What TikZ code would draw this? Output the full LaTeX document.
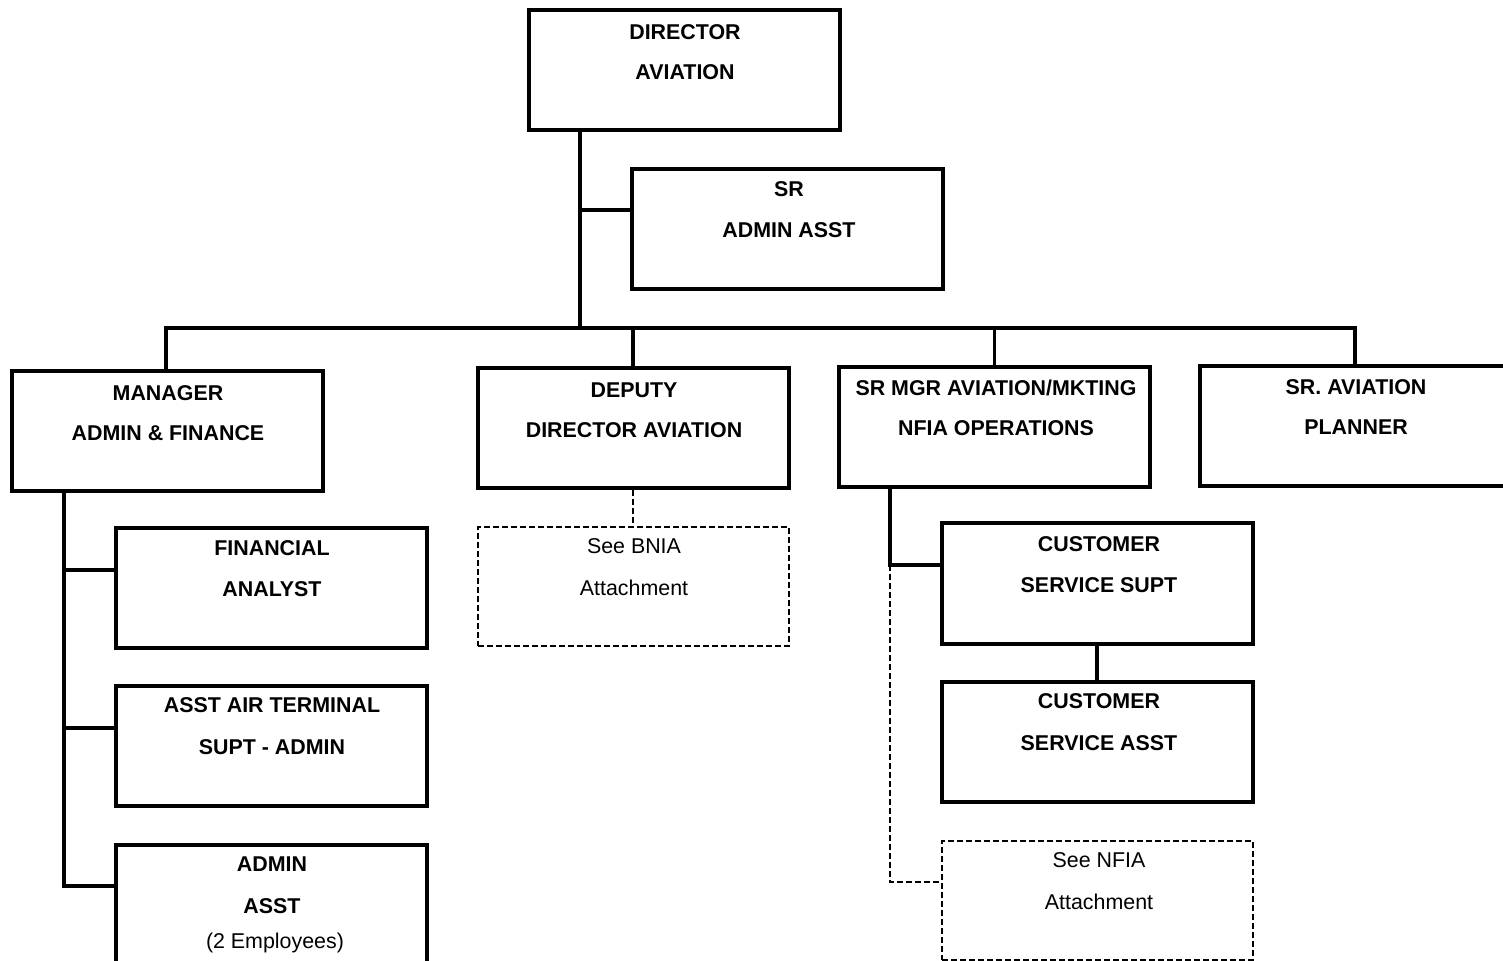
\documentclass[tikz,border=0pt]{standalone}
\usepackage{fontspec}
\setmainfont{Liberation Sans}
\begin{document}
\begin{tikzpicture}[x=0.5pt,y=-0.5pt,
  box/.style={draw, line width=2pt, rectangle, inner sep=0pt, minimum width=155.5pt, minimum height=60pt},
  dbox/.style={draw, line width=1pt, dash pattern=on 3pt off 1.5pt, rectangle, inner sep=0pt, minimum width=155.5pt, minimum height=59.5pt},
  title/.style={font=\bfseries\fontsize{10.7pt}{12pt}\selectfont, inner sep=0pt},
  plain/.style={font=\fontsize{10.7pt}{12pt}\selectfont, inner sep=0pt},
  conn/.style={line width=1.8pt},
  dconn/.style={line width=1pt, dash pattern=on 3pt off 1.5pt}]
\useasboundingbox (0,0) rectangle (1503,961);
\clip (0,0) rectangle (1503,961);
\fill[white] (0,0) rectangle (1503,961);

% boxes
\node[box] (dir) at (684,70.5) {};
\node[title] (dirA) at (685,32) {DIRECTOR};
\node[title] (dirB) at (685,72) {AVIATION};

\node[box] (sra) at (787,229.5) {};
\node[title] (sraA) at (789,189) {SR};
\node[title] (sraB) at (789,230) {ADMIN ASST};

\node[box] (mgr) at (167,431) {};
\node[title] (mgrA) at (168,393) {MANAGER};
\node[title] (mgrB) at (168,433) {ADMIN \& FINANCE};

\node[box] (dep) at (633,428.5) {};
\node[title] (depA) at (634,390) {DEPUTY};
\node[title] (depB) at (634,430) {DIRECTOR AVIATION};

\node[box] (srm) at (994.5,427) {};
\node[title] (srmA) at (996,388) {SR MGR AVIATION/MKTING};
\node[title] (srmB) at (996,428) {NFIA OPERATIONS};

\node[box] (pln) at (1355.5,426) {};
\node[title] (plnA) at (1356,387) {SR. AVIATION};
\node[title] (plnB) at (1356,427) {PLANNER};

\node[box] (fin) at (271,588) {};
\node[title] (finA) at (272,548) {FINANCIAL};
\node[title] (finB) at (272,589) {ANALYST};

\node[box] (ats) at (271,746) {};
\node[title] (atsA) at (272,705) {ASST AIR TERMINAL};
\node[title] (atsB) at (272,747) {SUPT - ADMIN};

\node[box] (adm) at (271,905) {};
\node[title] (admA) at (272,864) {ADMIN};
\node[title] (admB) at (272,906) {ASST};
\node[plain] (admC) at (275,943) {(2 Employees)};

\node[dbox] (bnia) at (633,586.5) {};
\node[plain] (bniaA) at (634,546) {See BNIA};
\node[plain] (bniaB) at (634,588) {Attachment};

\node[box] (css) at (1097,583.5) {};
\node[title] (cssA) at (1099,544) {CUSTOMER};
\node[title] (cssB) at (1099,585) {SERVICE SUPT};

\node[box] (csa) at (1097,742) {};
\node[title] (csaA) at (1099,701) {CUSTOMER};
\node[title] (csaB) at (1099,743) {SERVICE ASST};

\node[dbox] (nfia) at (1097.5,900.5) {};
\node[plain] (nfiaA) at (1099,860) {See NFIA};
\node[plain] (nfiaB) at (1099,902) {Attachment};

% junction coordinates
\coordinate (trunk) at (580,328);
\coordinate (busL) at (166,328);
\coordinate (busR) at (1355,328);
\coordinate (sraJ) at (580,210);
\coordinate (mgrX) at (64,491);
\coordinate (srmX) at (890,565);
\coordinate (nfiaJ) at (890,882);

% top trunk and bus
\draw[conn] (trunk |- dir.south) -- (trunk);
\draw[conn] (sraJ) -- (sraJ -| sra.west);
\draw[conn] (busL |- mgr.north) -- (busL) -- (busR) -- (busR |- pln.north);
\draw[conn] (dep.north) -- (dep.north |- trunk);
\draw[conn] (srm.north) -- (srm.north |- trunk);

% manager subtree
\draw[conn] (mgrX) -- (64,886) -- (64,886 -| adm.west);
\draw[conn] (64,570) -- (64,570 -| fin.west);
\draw[conn] (64,728) -- (64,728 -| ats.west);

% deputy dashed
\draw[dconn] (dep.south) -- (bnia.north);

% SR MGR subtree
\draw[conn] (srmX |- srm.south) -- (srmX) -- (srmX -| css.west);
\draw[dconn] (srmX) -- (nfiaJ) -- (nfiaJ -| nfia.west);
\draw[conn] (css.south) -- (csa.north);
\end{tikzpicture}
\end{document}
